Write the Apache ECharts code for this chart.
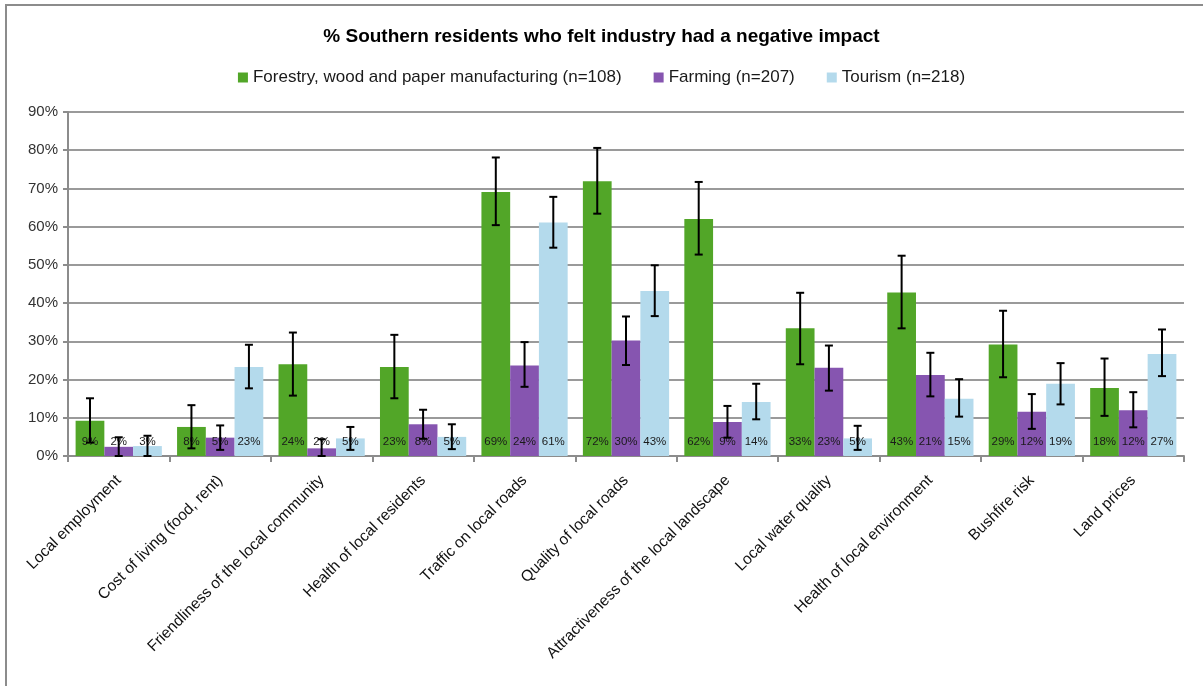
<!DOCTYPE html>
<html>
<head>
<meta charset="utf-8">
<script src="https://cdn.jsdelivr.net/npm/echarts@6/dist/echarts.min.js"></script>
<style>
html,body{margin:0;padding:0;background:#fff;}
#chart{width:1203px;height:686px;}
</style>
</head>
<body>
<div id="chart"></div>
<script>
const categories = ["Local employment","Cost of living (food, rent)","Friendliness of the local community","Health of local residents","Traffic on local roads","Quality of local roads","Attractiveness of the local landscape","Local water quality","Health of local environment","Bushfire risk","Land prices"];
const seriesNames = ["Forestry, wood and paper manufacturing (n=108)","Farming (n=207)","Tourism (n=218)"];
const forestry = [9.2, 7.6, 24.0, 23.3, 69.1, 71.9, 62.0, 33.4, 42.8, 29.2, 17.8];
const farming  = [2.4, 4.8, 2.0, 8.3, 23.7, 30.2, 8.9, 23.1, 21.2, 11.6, 12.0];
const tourism  = [2.6, 23.3, 4.6, 5.0, 61.1, 43.2, 14.1, 4.6, 15.0, 18.9, 26.7];
const forestryLow  = [3.5, 2.0, 15.8, 15.1, 60.4, 63.4, 52.7, 24.0, 33.4, 20.6, 10.5];
const forestryHigh = [15.1, 13.3, 32.3, 31.7, 78.1, 80.6, 71.7, 42.7, 52.4, 38.0, 25.5];
const farmingLow   = [0.0, 1.6, 0.0, 4.5, 18.1, 23.8, 4.8, 17.1, 15.6, 7.1, 7.5];
const farmingHigh  = [4.9, 8.0, 4.4, 12.1, 29.8, 36.5, 13.1, 28.9, 27.0, 16.2, 16.7];
const tourismLow   = [0.0, 17.7, 1.6, 1.8, 54.5, 36.6, 9.6, 1.6, 10.3, 13.5, 20.9];
const tourismHigh  = [5.3, 29.1, 7.6, 8.3, 67.8, 49.9, 18.9, 7.9, 20.1, 24.3, 33.1];
const yTicks = [0, 10, 20, 30, 40, 50, 60, 70, 80, 90];

const colors = ['#52a628', '#8655b0', '#b4daec'];
const values = [forestry, farming, tourism];
const lows = [forestryLow, farmingLow, tourismLow];
const highs = [forestryHigh, farmingHigh, tourismHigh];
const CAT_GAP = 0.15;
const FONT = '"Liberation Sans", Arial, sans-serif';

const barSeries = values.map((v, s) => ({
  name: seriesNames[s],
  type: 'bar',
  data: v,
  barGap: '0%',
  barCategoryGap: (CAT_GAP * 100) + '%',
  itemStyle: { color: colors[s] },
  label: {
    show: true,
    position: 'insideBottom',
    distance: 8,
    formatter: p => Math.round(p.value) + '%',
    color: '#1a1a1a',
    fontSize: 11.5,
    fontFamily: FONT
  },
  z: 2
}));

const errSeries = values.map((v, s) => ({
  type: 'custom',
  name: 'err' + s,
  data: v.map((_, i) => [i, lows[s][i], highs[s][i]]),
  z: 5,
  silent: true,
  renderItem: function (params, api) {
    const idx = api.value(0);
    const lo = api.coord([idx, api.value(1)]);
    const hi = api.coord([idx, api.value(2)]);
    const catW = api.size([1, 0])[0];
    const barW = catW * (1 - CAT_GAP) / 3;
    const x = lo[0] + (s - 1) * barW;
    const cap = 4;
    const style = { stroke: '#000', lineWidth: 2 };
    return {
      type: 'group',
      children: [
        { type: 'line', shape: { x1: x, y1: hi[1], x2: x, y2: lo[1] }, style },
        { type: 'line', shape: { x1: x - cap, y1: hi[1], x2: x + cap, y2: hi[1] }, style },
        { type: 'line', shape: { x1: x - cap, y1: lo[1], x2: x + cap, y2: lo[1] }, style }
      ]
    };
  }
}));

const chart = echarts.init(document.getElementById('chart'), null, { renderer: 'canvas' });
chart.setOption({
  animation: false,
  backgroundColor: '#fff',
  textStyle: { fontFamily: FONT },
  title: {
    text: '% Southern residents who felt industry had a negative impact',
    left: 'center',
    top: 22,
    textStyle: { fontSize: 19, fontWeight: 'bold', color: '#000', fontFamily: FONT }
  },
  legend: {
    data: seriesNames,
    top: 64,
    left: 'center',
    itemWidth: 10,
    itemHeight: 10,
    itemGap: 32,
    icon: 'rect',
    textStyle: { fontSize: 17, color: '#1a1a1a', fontFamily: FONT }
  },
  graphic: [{
    type: 'rect',
    shape: { x: 6, y: 5, width: 1300, height: 800 },
    style: { fill: 'none', stroke: '#8c8c8c', lineWidth: 2 },
    silent: true
  }],
  grid: { left: 68, right: 19, top: 112, bottom: 230 },
  xAxis: {
    type: 'category',
    data: categories,
    axisLine: { lineStyle: { color: '#8c8c8c', width: 2 } },
    axisTick: { show: true, length: 6, lineStyle: { color: '#8c8c8c', width: 2 } },
    axisLabel: { rotate: 45, interval: 0, fontSize: 15.5, color: '#111', margin: 22, fontFamily: FONT }
  },
  yAxis: {
    type: 'value',
    min: yTicks[0],
    max: yTicks[yTicks.length - 1],
    interval: yTicks[1] - yTicks[0],
    axisLine: { show: true, lineStyle: { color: '#8c8c8c', width: 2 } },
    axisTick: { show: true, length: 5, lineStyle: { color: '#8c8c8c', width: 2 } },
    splitLine: { lineStyle: { color: '#9a9a9a', width: 2 } },
    axisLabel: { formatter: '{value}%', fontSize: 15, color: '#333', margin: 10, fontFamily: FONT }
  },
  series: barSeries.concat(errSeries)
});
</script>
</body>
</html>
